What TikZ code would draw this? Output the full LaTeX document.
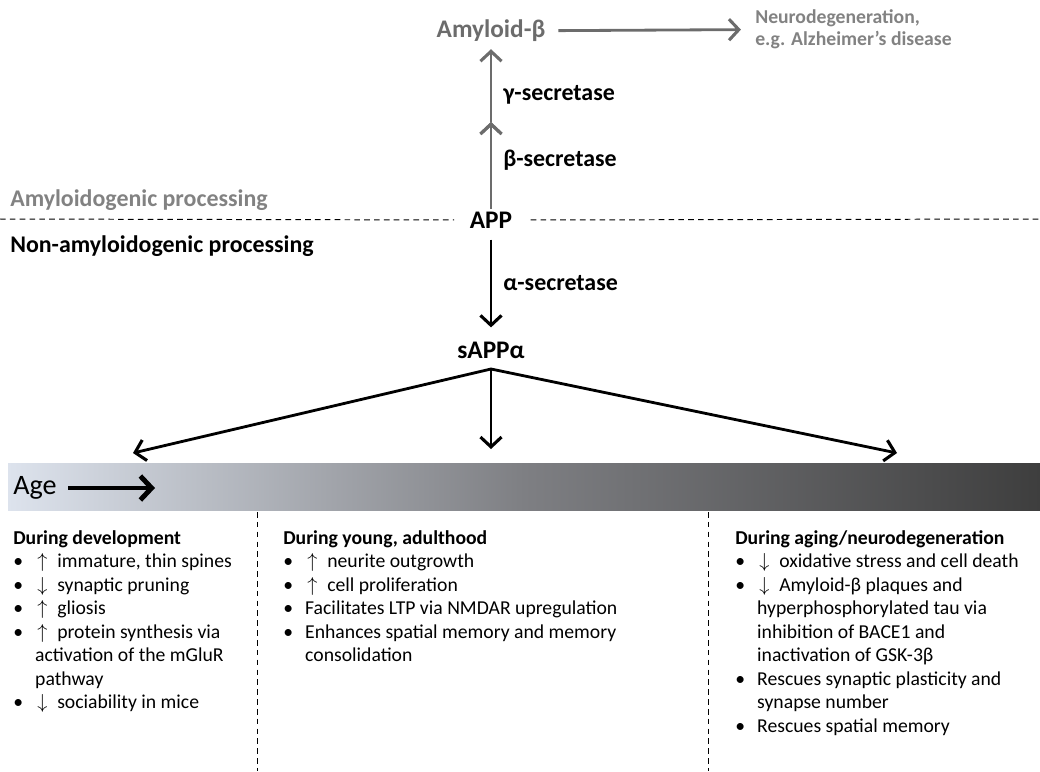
\documentclass[tikz,border=0pt]{standalone}
\usepackage{fontspec}
\setmainfont{Carlito}
\usepackage{xcolor}
\usepackage{tikz}
\usetikzlibrary{positioning,arrows.meta}
\definecolor{amygray}{RGB}{108,108,108}
\definecolor{neugray}{RGB}{130,130,130}
\definecolor{barleft}{RGB}{221,227,237}
\definecolor{barmid}{RGB}{126,127,131}
\definecolor{barright}{RGB}{62,62,62}
\tikzset{main node/.style={font=\bfseries\fontsize{18}{20}\selectfont,inner sep=2pt},
  enz node/.style={font=\bfseries\fontsize{17}{19}\selectfont,inner sep=0pt,anchor=west},
  list node/.style={font=\fontsize{14}{16.7}\selectfont,align=left,inner sep=0pt,anchor=north west},
  barb/.tip={Straight Barb[length=7pt,width=15pt,line width=2.2pt]},
  main arrow/.style={line width=2pt,-barb},
  sep line/.style={line width=0.7pt,dash pattern=on 4pt off 3pt},}
\newcommand{\bul}{\makebox[15.6pt][l]{\textbullet}}
\newcommand{\incr}{\hspace{1.5pt}$\uparrow$\hspace{0.5em}}
\newcommand{\decr}{\hspace{1.5pt}$\downarrow$\hspace{0.5em}}
\newcommand{\cnt}{\hspace*{15.6pt}}

\begin{document}
\begin{tikzpicture}[x=0.025cm,y=-0.025cm]
    \useasboundingbox (0,0) rectangle (1040,771);

    % age bar
    \shade[left color=barleft,right color=barright,middle color=barmid] (8,463) rectangle (1040,510);

    % amyloidogenic side
    \node[main node,text=amygray] (amy) at (491,31) {Amyloid-β};
    \node[font=\bfseries\fontsize{14}{16}\selectfont,text=neugray,align=left,anchor=west,inner sep=0pt] (neuro) at (755,29) {Neurodegeneration,\\e.g. Alzheimer’s disease};
    \node[main node] (app) at (491,220) {APP};
    \coordinate (mid) at (491,122);
    \node[enz node] (gsec) at (503,95) {γ-secretase};
    \node[enz node] (bsec) at (503,160) {β-secretase};
    \node[enz node,text=neugray] (amyproc) at (10,200) {Amyloidogenic processing};

    \path[draw,main arrow,amygray]
    (app) edge node {} (mid)
    (mid) edge [shorten >=3pt] node {} (amy)
    (amy) edge [shorten <=7pt,shorten >=10pt] node {} (neuro)
    ;

    % dashed divider
    \coordinate (dl) at (0,219);
    \coordinate (dr) at (1040,219);
    \draw[sep line,shorten >=9pt] (dl) -- (app.west);
    \draw[sep line,shorten <=11pt] (app.east) -- (dr);

    % non-amyloidogenic side
    \node[enz node] (nonproc) at (10,246) {Non-amyloidogenic processing};
    \node[enz node] (asec) at (503,283) {α-secretase};
    \node[main node] (sapp) at (491,350) {sAPPα};
    \path[draw,main arrow]
    (app) edge [shorten <=6pt,shorten >=8pt] node {} (sapp)
    ;

    \coordinate (fork) at (491,369);
    \coordinate (tl) at (133,453);
    \coordinate (tm) at (491,449);
    \coordinate (tr) at (897,453);
    \draw[main arrow,barb-barb] (tl) -- (fork) -- (tr);
    \draw[main arrow] (fork) -- (tm);

    % age
    \node[font=\fontsize{20}{22}\selectfont,anchor=west,inner sep=0pt] (age) at (13,488) {Age};
    \coordinate (agetip) at (155,488);
    \draw[line width=3.5pt,shorten <=8pt,-{Straight Barb[length=8pt,width=17pt,line width=3.5pt]}] (age) -- (agetip);

    % column separators
    \coordinate (s1t) at (257,512);
    \coordinate (s1b) at (257,771);
    \coordinate (s2t) at (708,512);
    \coordinate (s2b) at (708,771);
    \draw[sep line] (s1t) -- (s1b);
    \draw[sep line] (s2t) -- (s2b);

    % effects over the lifespan
    \node[list node] (dev) at (13,530) {\textbf{During development}\\
    \bul\incr immature, thin spines\\
    \bul\decr synaptic pruning\\
    \bul\incr gliosis\\
    \bul\incr protein synthesis via\\
    \cnt activation of the mGluR\\
    \cnt pathway\\
    \bul\decr sociability in mice};

    \node[list node] (adult) at (283,530) {\textbf{During young, adulthood}\\
    \bul\incr neurite outgrowth\\
    \bul\incr cell proliferation\\
    \bul Facilitates LTP via NMDAR upregulation\\
    \bul Enhances spatial memory and memory\\
    \cnt consolidation};

    \node[list node] (aging) at (735,530) {\textbf{During aging/neurodegeneration}\\
    \bul\decr oxidative stress and cell death\\
    \bul\decr Amyloid-β plaques and\\
    \cnt hyperphosphorylated tau via\\
    \cnt inhibition of BACE1 and\\
    \cnt inactivation of GSK-3β\\
    \bul Rescues synaptic plasticity and\\
    \cnt synapse number\\
    \bul Rescues spatial memory};
\end{tikzpicture}
\end{document}
